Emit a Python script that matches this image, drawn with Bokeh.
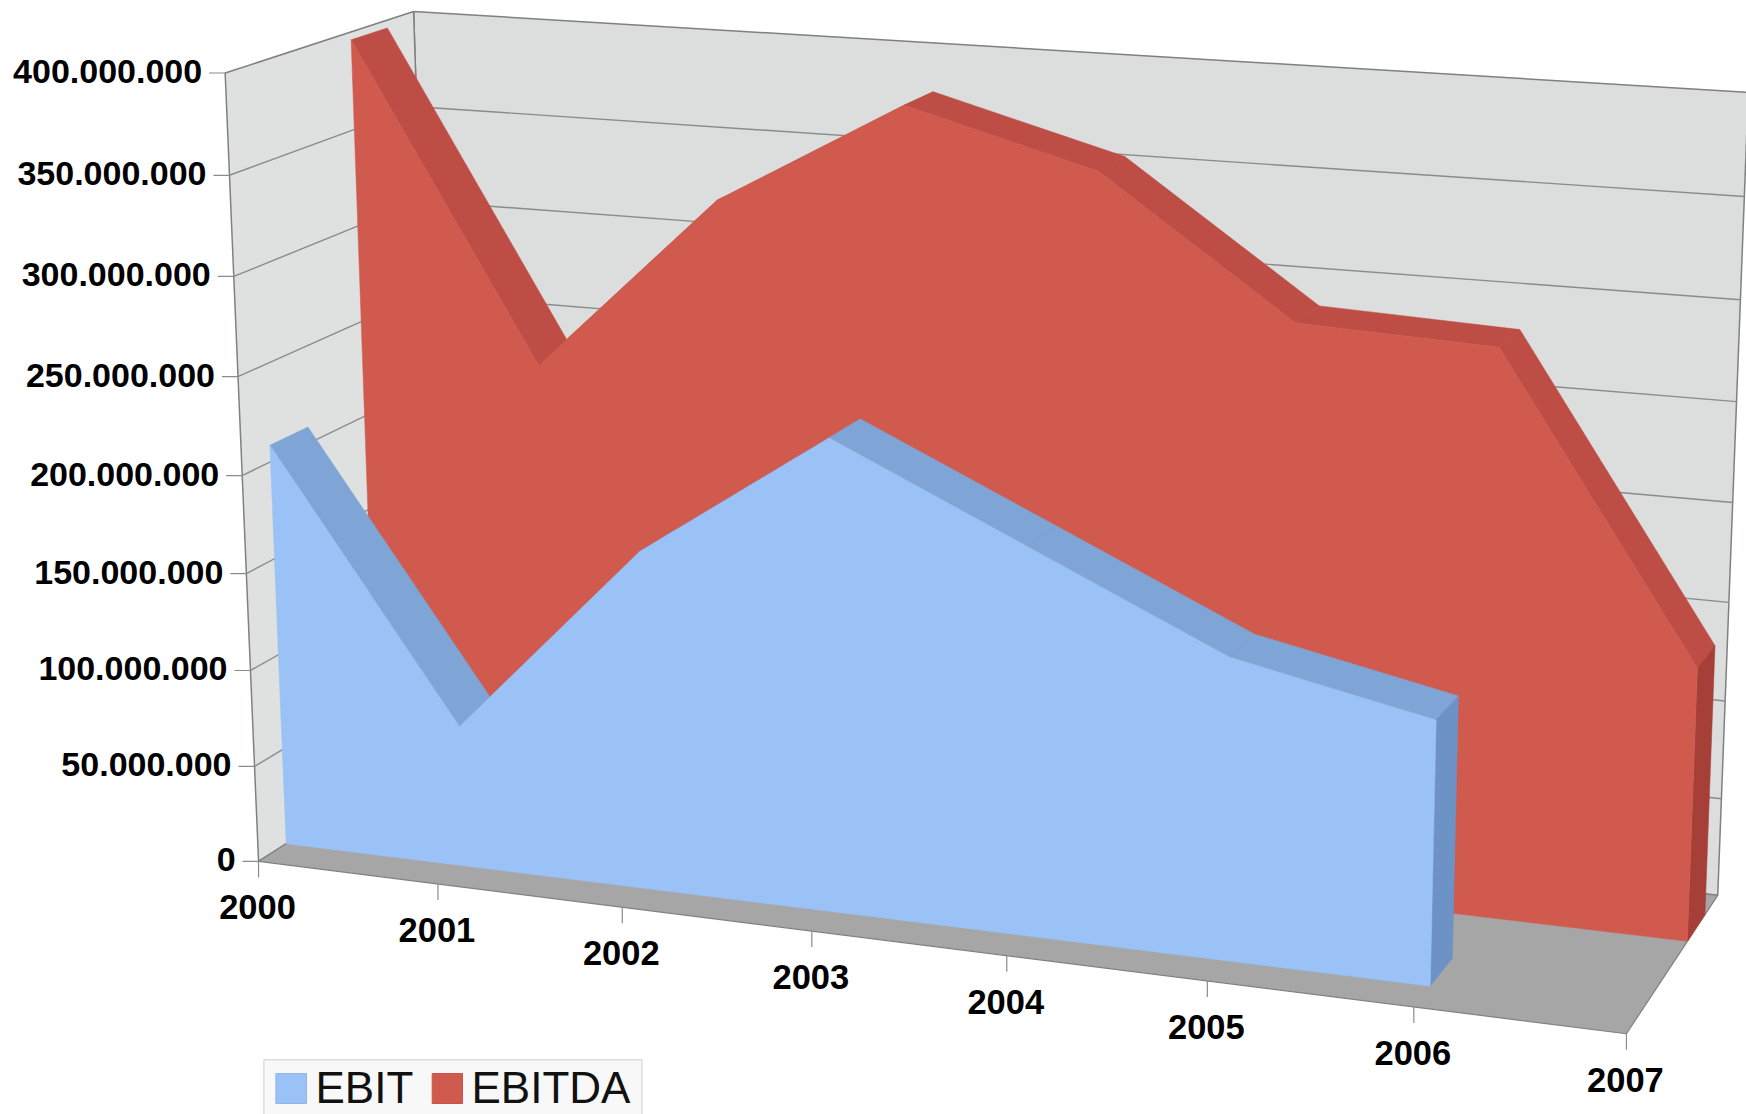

import numpy as np
from bokeh.plotting import figure
from bokeh.embed import file_html
from bokeh.resources import INLINE
from bokeh.models import Range1d
from bokeh.core.properties import value

# ---- data (values in millions)
years = ["2000", "2001", "2002", "2003", "2004", "2005", "2006", "2007"]
ebit = [208.5, 73.0, 172.5, 238.0, 194.0, 150.0, 130.0]
ebitda = [396.0, 235.0, 327.0, 381.0, 355.0, 288.0, 284.0, 136.5]
y_ticks = [0, 50, 100, 150, 200, 250, 300, 350, 400]
y_labels = ["0", "50.000.000", "100.000.000", "150.000.000", "200.000.000",
            "250.000.000", "300.000.000", "350.000.000", "400.000.000"]
series_names = ["EBIT", "EBITDA"]

# ---- the chart's 3D camera, calibrated on its axes: (category, value/100M, depth) -> page pixel
camera_refs = [
    (0, 0, 0, 257.6, 859.3), (1, 0, 0, 437, 883), (2, 0, 0, 621.4, 906.7), (3, 0, 0, 810.6, 929.8),
    (4, 0, 0, 1006.6, 955.4), (5, 0, 0, 1207, 981), (6, 0, 0, 1413.3, 1007.3), (7, 0, 0, 1626.7, 1034.3),
    (0, 4, 0, 225.8, 72.7), (0, 3.5, 0, 229.6, 175.7), (0, 3, 0, 233.4, 276.7), (0, 2.5, 0, 237.3, 376),
    (0, 2, 0, 241.9, 475), (0, 1, 0, 250, 669.3), (0, .5, 0, 253, 765),
    (0, 4, 1, 411.4, 9.3), (7, 4, 1, 1747, 92), (7, 0, 1, 1717.3, 894), (0, 0, 1, 439, 750),
    (7, 3.5, 1, 1745, 196.7), (7, 3, 1, 1741.6, 299.3), (7, 2.5, 1, 1734.5, 401.7), (7, 2, 1, 1731.7, 501.7),
    (7, 1, 1, 1725, 700), (7, .5, 1, 1720, 796.7),
]
A, b = [], []
for x, y, z, u, v in camera_refs:
    X = [x / 7, y / 4, z, 1]
    A.append(X + [0, 0, 0, 0] + [-u * t for t in X[:3]]); b.append(u)
    A.append([0, 0, 0, 0] + X + [-v * t for t in X[:3]]); b.append(v)
P = np.append(np.linalg.lstsq(np.array(A), np.array(b), rcond=None)[0], 1).reshape(3, 4)


def proj(x, val, z):
    w = P @ np.array([x / 7, val / 400, z, 1])
    return w[0] / w[2], w[1] / w[2]


def poly(points):
    pts = [proj(*q) for q in points]
    return [q[0] for q in pts], [q[1] for q in pts]


W, H = 1746, 1114
p = figure(width=W, height=H, x_range=Range1d(0, W), y_range=Range1d(H, 0),
           output_backend="svg", toolbar_location=None, min_border=0,
           background_fill_color="white", border_fill_color="white", outline_line_color=None)
p.axis.visible = False
p.grid.visible = False

EDGE = "#7f8080"
GRID = "#8a8c8c"
top = y_ticks[-1]
nx = len(years) - 1

# walls and floor
xs, ys = poly([(0, 0, 1), (nx, 0, 1), (nx, top, 1), (0, top, 1)])
p.patch(xs, ys, fill_color="#dcdddd", line_color=EDGE, line_width=1.5)
xs, ys = poly([(0, 0, 0), (0, 0, 1), (0, top, 1), (0, top, 0)])
p.patch(xs, ys, fill_color="#dfe0e0", line_color=EDGE, line_width=1.5)
xs, ys = poly([(0, 0, 0), (nx, 0, 0), (nx, 0, 1), (0, 0, 1)])
p.patch(xs, ys, fill_color="#a6a6a6", line_color=EDGE, line_width=1.2)

# gridlines on the walls
for t in y_ticks[1:-1]:
    xs, ys = poly([(0, t, 0), (0, t, 1), (nx, t, 1)])
    p.line(xs, ys, line_color=GRID, line_width=1.4)

# y ticks and labels
for t, lab in zip(y_ticks, y_labels):
    x0, y0 = proj(0, t, 0)
    p.line([x0 - 16, x0], [y0, y0], line_color=GRID, line_width=1.2)
    p.text([x0 - 23], [y0 - 1.5], text=[lab], text_align="right", text_baseline="middle",
           text_font=value("Liberation Sans"), text_font_style="bold", text_font_size="34px",
           text_color="#000000")

# x ticks and labels
for i, lab in enumerate(years):
    x0, y0 = proj(i, 0, 0)
    p.line([x0, x0], [y0, y0 + 16], line_color=GRID, line_width=1.2)
    p.text([x0 - 1], [y0 + 46], text=[lab], text_align="center", text_baseline="middle",
           text_font=value("Liberation Sans"), text_font_style="bold", text_font_size="34.5px",
           text_color="#000000")


def area3d(vals, z0, z1, face, top_col, side):
    n = len(vals)
    # ribbon on top of the area
    for i in range(n - 1):
        xs, ys = poly([(i, vals[i], z0), (i + 1, vals[i + 1], z0), (i + 1, vals[i + 1], z1), (i, vals[i], z1)])
        p.patch(xs, ys, fill_color=top_col, line_color=top_col, line_width=0.5)
    # end face on the right
    xs, ys = poly([(n - 1, 0, z0), (n - 1, vals[-1], z0), (n - 1, vals[-1], z1), (n - 1, 0, z1)])
    p.patch(xs, ys, fill_color=side, line_color=side, line_width=0.5)
    # front face
    pts = [(0, 0, z0)] + [(i, v, z0) for i, v in enumerate(vals)] + [(n - 1, 0, z0)]
    xs, ys = poly(pts)
    p.patch(xs, ys, fill_color=face, line_color=face, line_width=0.5)


area3d(ebitda, 0.65, 0.85, "#d05a4e", "#bd4d45", "#a63f38")
area3d(ebit, 0.145, 0.345, "#9ac2f6", "#7fa5d6", "#6d93c6")

# legend
p.quad(left=[263.4], right=[641.5], top=[1059.3], bottom=[1114], fill_color="#f8f8f8", line_color="#cfcfcf", line_width=1)
p.quad(left=[275.4], right=[306], top=[1073], bottom=[1103], fill_color="#9ac2f6", line_color="#8fb4e6", line_width=1)
p.quad(left=[431.7], right=[462], top=[1073], bottom=[1103], fill_color="#d05a4e", line_color="#c9544a", line_width=1)
for x0, lab in zip([315, 471], series_names):
    p.text([x0], [1086.5], text=[lab], text_align="left", text_baseline="middle",
           text_font=value("Liberation Sans"), text_font_size="44px", text_color="#111111")

open("out.html", "w").write(file_html(p, INLINE))
